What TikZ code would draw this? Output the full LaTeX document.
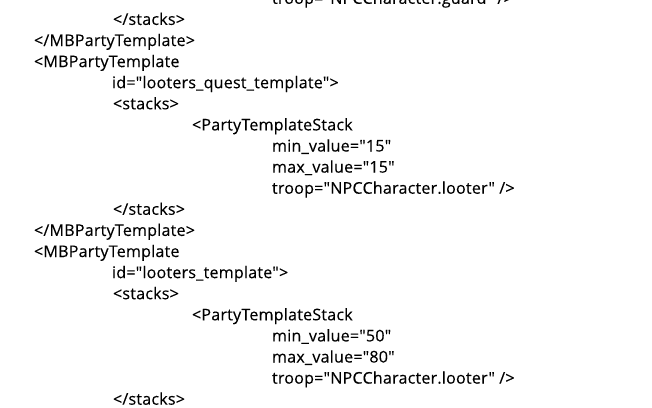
\documentclass[tikz,border=0pt]{standalone}
\usepackage{fontspec}
\setmainfont{Open Sans}[Ligatures=TeXOff, LetterSpace=1.2, FakeBold=0.15]
\tikzset{
  xmlline/.style={anchor=base west, inner sep=0pt, outer sep=0pt, text=black, font=\fontsize{16.1}{18}\selectfont},
}
\begin{document}
\begin{tikzpicture}[x=1pt,y=-1pt]
\useasboundingbox (0,0) rectangle (652,407);
\fill[white] (0,0) rectangle (652,407);
\clip (0,0) rectangle (652,407);
\def\lh{21.1}
\node[xmlline] (l0)  at (272,  {46-2*\lh}) {troop="NPCCharacter.guard" />};
\node[xmlline] (l1)  at (113,  {46-1*\lh}) {</stacks>};
\node[xmlline] (l2)  at (34,   {46+0*\lh}) {</MBPartyTemplate>};
\node[xmlline] (l3)  at (34,   {46+1*\lh}) {<MBPartyTemplate};
\node[xmlline] (l4)  at (112,  {46+2*\lh}) {id="looters\_quest\_template">};
\node[xmlline] (l5)  at (113,  {46+3*\lh}) {<stacks>};
\node[xmlline] (l6)  at (192,  {46+4*\lh}) {<PartyTemplateStack};
\node[xmlline] (l7)  at (272,  {46+5*\lh}) {min\_value="15"};
\node[xmlline] (l8)  at (272,  {46+6*\lh}) {max\_value="15"};
\node[xmlline] (l9)  at (272,  {46+7*\lh}) {troop="NPCCharacter.looter" />};
\node[xmlline] (l10) at (113,  {46+8*\lh}) {</stacks>};
\node[xmlline] (l11) at (34,   {46+9*\lh}) {</MBPartyTemplate>};
\node[xmlline] (l12) at (34,   {46+10*\lh}) {<MBPartyTemplate};
\node[xmlline] (l13) at (112,  {46+11*\lh}) {id="looters\_template">};
\node[xmlline] (l14) at (113,  {46+12*\lh}) {<stacks>};
\node[xmlline] (l15) at (192,  {46+13*\lh}) {<PartyTemplateStack};
\node[xmlline] (l16) at (272,  {46+14*\lh}) {min\_value="50"};
\node[xmlline] (l17) at (272,  {46+15*\lh}) {max\_value="80"};
\node[xmlline] (l18) at (272,  {46+16*\lh}) {troop="NPCCharacter.looter" />};
\node[xmlline] (l19) at (113,  {46+17*\lh}) {</stacks>};
\end{tikzpicture}
\end{document}
